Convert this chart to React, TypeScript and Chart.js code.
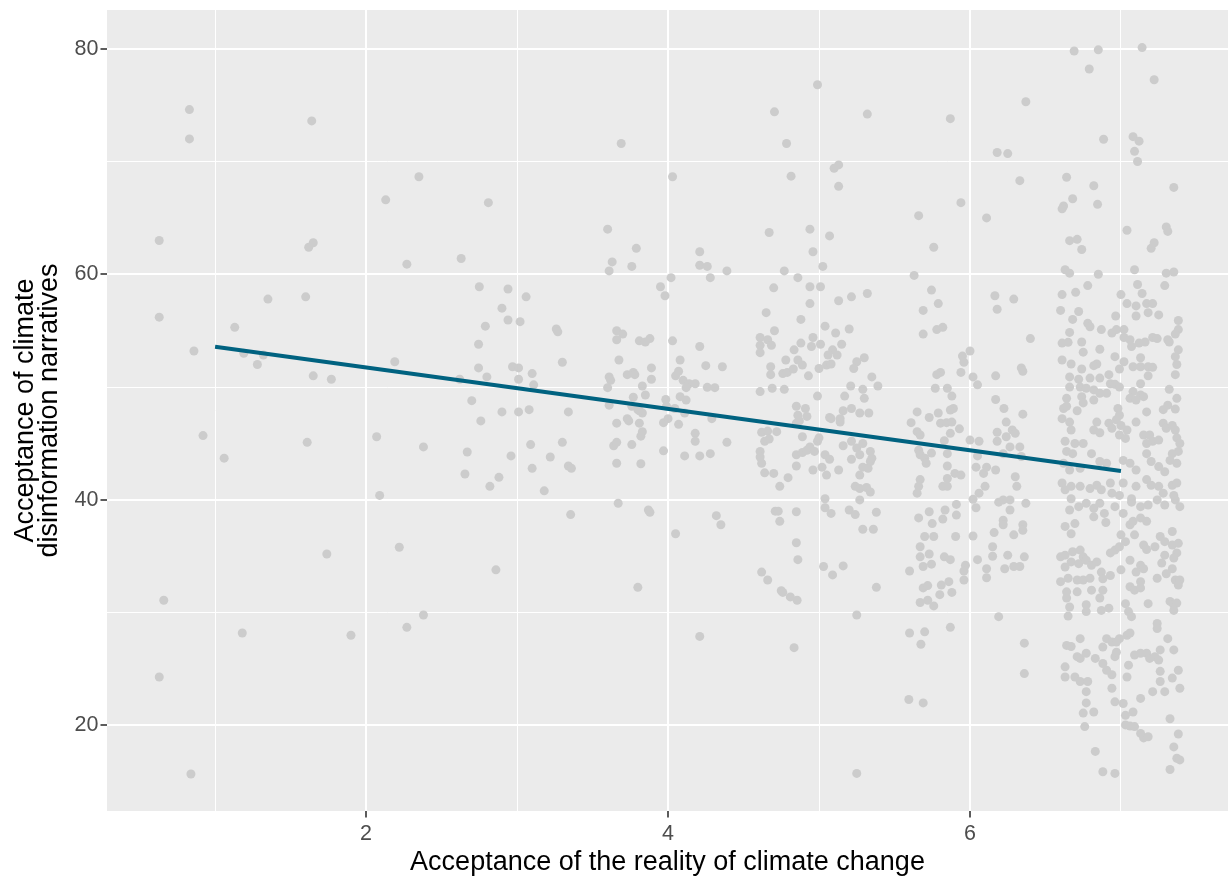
import React, { useEffect, useRef } from 'react';
import { Chart, registerables } from 'chart.js';

Chart.register(...registerables);

// Respondents: [acceptance of reality of climate change (jittered), acceptance of disinformation narratives]
const respondentsLow: [number, number][] = [
  [0.83,74.6],[0.83,72.0],[1.64,73.6],[2.13,66.6],[0.63,63.0],[1.65,62.8],[1.62,62.4],[2.27,60.9],[0.63,56.2],[1.35,57.8],
  [1.60,58.0],[1.13,55.3],[0.86,53.2],[1.19,53.0],[1.32,52.85],[1.28,52.0],[1.65,51.0],[1.77,50.7],[2.19,52.25],
  [0.92,45.7],[1.06,43.7],[1.61,45.1],[2.07,45.6],[2.09,40.4],[1.74,35.2],[2.22,35.8],[0.66,31.1],[1.18,28.2],[1.90,28.0],
  [2.27,28.7],[0.63,24.3],[0.84,15.7],
];

const respondentsMid: [number, number][] = [
  [3.69,71.6],[2.35,68.65],[4.03,68.65],[2.81,66.35],[3.60,64.0],[3.79,62.3],[3.63,61.1],[3.61,60.3],[3.76,60.7],[2.63,61.4],
  [4.21,62.0],[4.21,60.8],[4.02,59.7],[3.95,58.9],[3.98,58.1],[2.75,58.9],[2.94,58.7],[3.06,58.0],[2.90,57.0],[2.79,55.4],
  [2.94,55.95],[3.02,55.8],[3.26,55.15],[3.27,54.9],[2.745,53.8],[3.66,55.0],[3.70,54.7],[3.66,54.2],[3.81,54.1],[3.85,54.0],
  [3.88,54.3],[4.03,54.1],[4.21,53.6],[3.30,52.2],[3.675,52.4],[4.08,52.4],[2.745,51.7],[2.80,50.9],[2.97,51.8],[3.01,51.7],
  [3.01,50.7],[3.10,51.2],[3.11,50.2],[3.61,50.9],[3.62,50.6],[3.60,49.95],[3.73,51.1],[3.77,51.3],[3.78,51.1],[3.89,51.7],
  [3.89,50.7],[3.83,50.1],[3.85,49.3],[3.77,49.1],[4.07,51.4],[4.05,51.0],[4.10,50.6],[4.14,50.3],[4.18,50.3],[4.12,49.95],
  [4.08,49.15],[4.12,48.85],[3.985,48.9],[2.62,50.7],[2.70,48.8],[2.90,47.8],[3.01,47.8],[3.08,48.0],[3.34,47.8],[3.61,48.4],
  [2.76,47.0],[2.38,44.7],[2.67,44.25],[2.96,43.9],[3.09,44.9],[3.30,45.1],[3.22,43.8],[2.655,42.3],[2.88,42.0],[2.82,41.2],
  [3.10,42.8],[3.34,43.0],[3.36,42.8],[3.18,40.8],[3.66,46.8],[3.73,47.2],[3.74,47.0],[3.76,48.3],[3.80,48.0],[3.83,47.7],
  [3.81,47.9],[3.81,46.8],[3.83,46.05],[3.82,45.65],[3.64,44.8],[3.66,45.1],[3.76,44.9],[3.66,43.25],[3.82,43.2],[3.97,46.85],
  [4.00,47.2],[3.97,44.35],[4.07,46.7],[4.11,43.9],[4.18,45.9],[4.18,45.2],[4.21,43.9],[3.99,48.3],[4.045,48.1],[4.11,47.7],
  [3.67,39.7],[3.355,38.7],[3.87,39.1],[3.88,38.9],[4.05,37.0],[2.86,33.8],[3.80,32.25],[2.38,29.8],[4.21,27.9],
];

const respondentsHigh: [number, number][] = [
  [4.99,76.8],[4.705,74.4],[5.32,74.2],[5.87,73.8],[4.785,71.6],[6.18,70.8],[5.10,69.4],[5.13,69.7],[4.815,68.7],[5.13,67.8],
  [5.94,66.35],[5.66,65.2],[6.11,65.0],[4.67,63.7],[4.94,64.0],[5.07,63.4],[4.96,62.0],[5.76,62.4],[4.26,60.7],[4.28,59.7],
  [4.39,60.3],[4.77,60.3],[5.025,60.7],[4.86,59.7],[4.70,58.8],[4.94,58.9],[5.01,58.9],[4.94,57.4],[5.63,59.9],[5.745,58.6],
  [5.79,57.4],[5.69,56.8],[5.69,54.7],[5.78,55.1],[5.82,55.3],[6.165,58.1],[6.18,56.9],[5.13,57.65],[5.215,58.0],[5.32,58.3],
  [4.65,56.6],[4.88,56.0],[4.705,55.0],[5.04,55.4],[5.11,54.8],[5.20,55.15],[4.61,54.4],[4.66,54.2],[4.61,53.7],[4.685,53.7],
  [4.61,53.05],[4.88,53.9],[4.835,53.3],[4.96,54.4],[4.95,53.6],[5.01,53.8],[5.15,53.8],[5.09,53.3],[5.06,52.85],[5.12,52.85],
  [4.78,52.4],[4.86,52.4],[4.89,51.95],[5.25,52.25],[5.23,51.65],[5.30,52.6],[5.00,51.65],[5.05,51.95],[5.08,52.05],[4.68,51.8],
  [4.68,51.1],[4.76,51.2],[4.79,51.3],[4.83,51.6],[4.93,51.0],[4.25,51.9],[4.36,51.8],[4.26,49.98],[4.31,49.95],[4.61,49.6],
  [4.69,49.9],[4.77,49.8],[4.99,49.2],[5.21,50.1],[5.29,49.8],[5.30,49.0],[5.35,50.9],[5.39,50.1],[5.17,49.2],[4.85,48.3],
  [4.91,48.1],[5.16,47.9],[5.215,48.1],[5.27,47.7],[5.33,47.7],[5.07,47.3],[5.14,47.2],[4.86,47.5],[4.92,47.4],[5.65,47.8],
  [5.73,47.3],[5.79,47.7],[5.89,48.1],[5.87,47.97],[5.77,49.9],[5.805,51.3],[5.78,51.1],[5.85,49.9],[5.88,49.2],[5.94,51.3],
  [5.95,52.75],[5.96,52.2],[6.00,53.2],[6.02,50.9],[6.05,50.2],[6.17,51.0],[6.17,48.9],
  [4.39,45.1],[4.29,47.2],[4.28,44.1],[4.62,46.0],[4.66,46.1],[4.72,46.05],[4.64,45.2],[4.67,45.4],[4.61,44.3],[4.61,43.8],
  [4.62,43.25],[4.64,42.4],[4.70,42.35],[4.795,41.97],[4.74,41.2],[4.85,46.8],[4.87,47.0],[4.89,45.6],[4.85,44.0],[4.85,43.0],
  [4.89,44.2],[4.92,44.4],[4.94,44.7],[4.97,44.3],[4.99,45.2],[5.00,45.5],[4.96,42.65],[5.02,42.9],[5.05,42.2],[5.04,44.0],
  [5.07,43.6],[5.08,47.2],[5.14,46.9],[5.16,44.8],[5.215,45.2],[5.13,42.65],[5.215,43.6],[5.25,44.6],[5.27,44.0],[5.29,45.0],
  [5.27,42.2],[5.29,42.9],[5.325,42.8],[5.34,43.4],[5.34,44.3],[5.35,43.7],[5.24,41.2],[5.27,41.0],[5.315,41.1],[5.34,40.7],
  [5.27,40.0],[5.04,40.1],[5.04,39.3],[5.08,38.8],[5.20,39.1],[5.24,38.7],[5.38,38.9],[5.29,37.4],[5.36,37.4],[4.71,39.0],
  [4.73,39.0],[4.74,38.1],[4.85,38.95],[4.32,38.6],[4.35,37.8],[4.85,36.2],[4.86,34.7],[4.62,33.6],[4.66,32.9],[4.75,31.95],
  [4.76,31.8],[4.81,31.4],[4.855,31.1],[5.03,34.1],[5.09,33.35],[5.16,34.15],[5.38,32.25],[5.25,29.8],[4.835,26.9],[5.25,15.75],
  [5.61,46.85],[5.65,46.05],[5.67,45.75],[5.805,46.8],[5.845,46.85],[5.88,46.9],[5.93,46.3],[5.87,45.9],[5.83,45.25],[5.66,44.4],
  [5.67,44.0],[5.70,43.7],[5.71,43.25],[5.745,44.15],[5.85,44.1],[5.85,43.0],[5.90,42.35],[5.94,42.2],[5.85,41.9],[5.82,41.2],
  [5.85,41.2],[6.00,45.3],[6.06,45.2],[6.05,43.9],[6.04,42.9],[6.09,42.35],[6.11,42.9],[6.17,42.65],[6.18,46.0],[6.18,45.2],
  [6.10,41.2],[6.06,40.6],[5.67,41.8],[5.66,41.2],[5.65,40.6],[6.02,40.05],[6.04,39.3],[6.19,39.8],[5.66,38.4],[5.73,38.95],
  [5.75,37.9],[5.835,39.1],[5.82,38.3],[5.91,39.6],[5.91,38.65],[5.70,36.75],[5.76,36.75],[5.905,36.75],[6.02,36.8],[6.16,37.1],
  [5.67,35.85],[5.67,34.95],[5.73,35.2],[5.745,34.3],[5.69,34.1],[5.83,34.95],[5.87,34.7],[5.60,33.7],[6.05,34.7],[6.15,35.85],
  [6.15,35.0],[5.97,34.2],[5.96,33.7],[5.96,32.9],[6.11,33.9],[6.11,33.1],[5.69,32.2],[5.72,32.4],[5.81,32.45],[5.86,32.75],
  [5.88,31.8],[5.80,31.6],[5.67,30.9],[5.72,31.1],[5.76,30.6],[6.19,29.65],[5.60,28.2],[5.70,28.3],[5.675,27.2],[5.87,28.7],
  [5.595,22.3],[5.69,22.0],
];

const respondentsTop: [number, number][] = [
  [6.69,79.8],[6.85,79.9],[7.14,80.1],[6.79,78.2],[7.22,77.25],[6.37,75.3],[6.25,70.7],[6.885,71.97],[7.08,72.2],[7.12,71.8],
  [7.09,70.9],[7.11,70.0],[6.33,68.3],[6.64,68.6],[6.82,67.85],[7.35,67.7],[6.68,66.7],[6.62,66.05],[6.61,65.8],[6.845,66.2],
  [7.04,63.9],[7.30,64.2],[7.31,63.8],[6.66,62.98],[6.71,63.1],[6.74,62.2],[7.22,62.8],[7.20,62.3],[6.63,60.4],[6.66,60.1],
  [6.85,60.0],[7.09,60.4],[7.30,60.1],[7.35,60.2],[6.29,57.8],[6.61,58.2],[6.70,58.4],[6.78,59.0],[6.60,56.8],[6.72,56.7],
  [6.68,56.0],[6.78,55.65],[6.795,55.35],[6.87,55.1],[6.66,54.85],[6.61,53.9],[6.65,53.97],[6.74,54.0],[6.75,53.1],[6.86,53.35],
  [6.61,52.4],[6.67,52.05],[6.74,51.6],[6.84,52.05],[6.82,51.9],[6.66,50.9],[6.72,50.7],[6.795,50.8],[6.86,50.8],[6.92,51.1],
  [6.93,50.3],[6.96,50.25],[6.99,50.0],[6.96,52.7],[6.99,51.6],[7.02,52.25],[7.00,58.2],[7.04,57.4],[7.10,57.2],[6.965,56.3],
  [7.10,56.3],[7.11,59.1],[7.14,58.3],[7.29,59.0],[7.17,57.4],[7.21,57.4],[7.18,56.6],[7.25,56.4],[6.94,54.8],[6.97,55.1],
  [7.02,55.1],[7.02,54.4],[7.06,54.2],[7.07,53.6],[7.12,53.9],[7.16,54.0],[7.21,54.4],[7.24,54.3],[7.31,54.2],[7.32,54.0],
  [7.38,55.9],[7.38,55.1],[7.36,54.7],[7.38,53.3],[7.36,52.7],[7.37,52.0],[7.36,51.1],[7.13,52.6],[7.08,51.8],[7.13,51.8],
  [7.18,51.8],[7.21,51.75],[7.13,50.3],[7.18,51.0],[7.32,49.8],[7.37,49.0],[7.08,49.6],[7.13,49.3],[7.06,49.0],[7.10,48.85],
  [7.15,49.15],[6.66,50.0],[6.73,50.0],[6.77,49.9],[6.82,49.75],[6.64,49.0],[6.74,49.15],[6.75,48.6],[6.82,48.85],[6.86,49.45],
  [6.905,49.45],[6.62,48.1],[6.64,48.3],[6.71,47.9],[6.98,48.1],[6.99,47.5],[7.17,47.8],[7.28,48.0],[7.31,48.4],[7.36,48.05],
  [6.225,48.1],[6.35,47.6],[6.40,54.3],[6.34,51.7],[6.35,51.4],
  [6.24,46.9],[6.28,46.2],[6.30,45.9],[6.24,45.6],[6.265,44.7],[6.33,44.7],[6.22,44.1],[6.34,43.85],[6.30,42.05],[6.31,41.2],
  [6.22,40.0],[6.265,40.0],[6.37,39.7],[6.265,39.1],[6.22,38.2],[6.22,37.8],[6.35,37.8],[6.35,37.3],[6.29,36.9],[6.36,34.95],
  [6.25,35.1],[6.23,33.9],[6.29,34.1],[6.33,34.1],[6.36,27.3],[6.36,24.6],
];

const respondentsDense: [number, number][] = [
  [6.61,47.2],[6.66,46.9],[6.67,46.2],[6.84,46.9],[6.82,46.2],[6.86,45.95],[6.92,46.8],[6.94,46.35],[6.97,47.1],[7.00,46.6],
  [7.04,46.2],[6.99,45.75],[7.03,45.45],[7.10,46.9],[7.15,45.75],[7.19,45.75],[7.21,45.2],[7.17,45.0],[7.25,45.3],[7.28,46.8],
  [7.30,46.35],[7.34,46.6],[7.36,46.2],[7.37,45.5],[7.39,45.0],[7.38,44.3],[6.63,45.2],[6.695,45.0],[6.64,44.3],[6.68,44.1],
  [6.75,45.0],[6.805,44.1],[6.86,43.4],[6.905,43.25],[6.62,43.25],[6.66,42.65],[6.73,42.8],[7.015,43.5],[7.06,43.25],[7.10,42.65],
  [7.17,44.1],[7.20,43.4],[7.25,42.95],[7.29,42.5],[7.325,43.5],[7.37,43.25],[7.34,44.1],[6.61,41.5],[6.63,40.9],[6.67,41.2],
  [6.73,41.2],[6.795,41.0],[6.84,41.3],[6.87,40.9],[6.93,41.5],[6.94,40.6],[6.99,40.4],[7.015,41.5],[7.07,40.1],[7.10,41.2],
  [7.17,41.8],[7.20,41.3],[7.25,41.2],[7.28,40.6],[7.34,41.3],[7.37,41.5],[7.35,40.4],[6.67,40.1],[6.72,39.4],[6.66,39.1],
  [6.77,39.7],[6.82,39.25],[6.86,39.7],[6.89,38.8],[6.96,39.4],[7.015,38.8],[7.07,39.8],[7.13,39.4],[7.18,39.55],[7.24,40.0],
  [7.29,39.55],[7.36,40.0],[7.39,39.4],
  [6.63,37.65],[6.67,37.0],[6.695,37.9],[6.82,38.5],[6.90,38.0],[7.00,36.9],[7.03,36.3],[7.06,37.8],[7.08,38.1],[7.13,38.4],
  [7.17,38.1],[7.09,36.9],[7.15,36.0],[7.17,35.6],[7.225,35.85],[7.26,36.75],[7.29,36.3],[7.34,37.2],[7.34,36.0],[7.38,36.15],
  [7.37,35.3],[7.35,34.85],[7.29,35.1],[6.60,34.95],[6.63,35.1],[6.68,35.4],[6.73,35.55],[6.75,34.95],[6.67,34.5],[6.72,34.35],
  [6.77,34.65],[6.805,34.2],[6.84,34.5],[6.63,34.05],[6.87,33.6],[6.93,33.3],[6.88,33.0],[6.93,35.3],[6.96,35.55],[6.99,35.85],
  [7.00,33.8],[7.06,34.65],[7.13,34.2],[7.10,33.6],[7.15,33.9],[7.24,33.05],[7.27,34.4],[7.30,33.45],[7.34,33.9],[7.36,32.9],
  [7.39,32.9],[7.38,32.45],[6.60,32.75],[6.65,33.05],[6.71,32.9],[6.75,32.9],[6.795,33.05],[6.64,31.85],[6.64,31.3],[6.66,30.5],
  [6.71,31.85],[6.77,30.7],[6.805,32.0],[6.86,31.3],[6.88,32.0],[6.87,30.2],[6.92,30.4],[6.77,30.1],[6.65,29.7],[7.03,30.8],
  [7.05,30.1],[7.07,29.65],[7.18,30.8],[7.06,32.3],[7.09,32.0],[7.13,32.2],[7.13,32.75],[7.325,31.0],[7.35,30.7],[7.37,30.85],
  [7.35,30.2],[7.24,29.05],[7.24,28.6],[7.31,27.7],[6.64,27.1],[6.67,27.0],[6.73,27.7],[6.71,26.1],[6.73,25.95],[6.77,26.4],
  [6.83,25.95],[6.88,26.95],[6.905,27.7],[6.94,27.4],[6.97,27.4],[6.99,27.7],[7.04,28.0],[7.06,28.2],[6.63,25.2],[6.63,24.3],
  [6.695,24.3],[6.73,23.9],[6.78,23.9],[6.88,25.5],[6.905,24.9],[6.94,24.5],[6.96,26.1],[6.97,26.5],[7.05,25.35],[7.04,24.3],
  [7.09,26.25],[7.13,26.4],[7.17,26.4],[7.19,25.95],[7.225,26.1],[7.25,25.8],[7.26,26.7],[7.26,24.8],[7.35,26.7],[7.38,24.9],
  [7.34,24.2],[7.39,23.3],[7.26,23.9],[7.21,23.0],[7.29,23.0],[6.77,23.0],[6.77,22.0],[6.75,21.1],[6.82,21.2],[6.94,23.3],
  [6.96,22.1],[7.015,21.95],[7.13,22.4],[7.08,21.2],[7.03,20.9],[6.76,19.9],[7.03,20.05],[7.06,19.95],[7.09,19.9],[7.13,19.3],
  [7.15,18.9],[7.18,19.0],[7.325,20.6],[7.38,19.25],[7.35,18.1],[7.37,17.1],[7.39,16.95],[7.325,16.1],[6.83,17.7],[6.88,15.9],
  [6.96,15.75],
];

// Linear fit (geom_smooth, method = lm) end points
const fitX = [1, 7];
const fitY = [53.58, 42.56];

// Axes
const xRange = [0.284, 7.709];
const yRange = [12.42, 83.43];
const xTicks = [1, 2, 3, 4, 5, 6, 7];
const xTickLabels = ['', '2', '', '4', '', '6', ''];
const yTicks = [20, 30, 40, 50, 60, 70, 80];
const yTickLabels = ['20', '', '40', '', '60', '', '80'];
const xTitle = 'Acceptance of the reality of climate change';
const yTitle = ['Acceptance of climate', 'disinformation narratives'];

const panelBackground = {
  id: 'panelBackground',
  beforeDraw(chart: any) {
    const { ctx, chartArea } = chart;
    if (!chartArea) return;
    ctx.save();
    ctx.fillStyle = '#EBEBEB';
    ctx.fillRect(chartArea.left, chartArea.top, chartArea.right - chartArea.left, chartArea.bottom - chartArea.top);
    ctx.restore();
  },
};

const zeroPadding = (s: any) => {
  s.paddingTop = 0;
  s.paddingBottom = 0;
  s.paddingLeft = 0;
  s.paddingRight = 0;
};

export default function App() {
  const canvasRef = useRef<HTMLCanvasElement | null>(null);

  useEffect(() => {
    if (!canvasRef.current) return;
    Chart.defaults.font.family = '"Liberation Sans", Arial, sans-serif';
    const all = [
      ...respondentsLow,
      ...respondentsMid,
      ...respondentsHigh,
      ...respondentsTop,
      ...respondentsDense,
    ];
    const isMajorX = (v: number) => v % 2 === 0;
    const isMajorY = (v: number) => v % 20 === 0;

    const chart = new Chart(canvasRef.current, {
      type: 'scatter',
      data: {
        datasets: [
          {
            type: 'line',
            data: fitX.map((x, i) => ({ x, y: fitY[i] })),
            borderColor: '#006280',
            borderWidth: 4,
            pointRadius: 0,
            fill: false,
            order: 0,
          } as any,
          {
            type: 'scatter',
            data: all.map(([x, y]) => ({ x, y })),
            pointRadius: 4.5,
            pointHoverRadius: 4.5,
            pointBackgroundColor: '#CCCCCC',
            pointBorderWidth: 0,
            borderWidth: 0,
            order: 1,
          } as any,
        ],
      },
      options: {
        animation: false,
        responsive: false,
        events: [],
        layout: { autoPadding: false, padding: { top: 10, right: 0, left: 0, bottom: 0 } },
        plugins: { legend: { display: false }, tooltip: { enabled: false } },
        scales: {
          x: {
            type: 'linear',
            min: xRange[0],
            max: xRange[1],
            afterBuildTicks: (s: any) => {
              s.ticks = xTicks.map((v) => ({ value: v }));
            },
            afterFit: (s: any) => {
              s.height = 67;
              zeroPadding(s);
            },
            border: { display: false },
            grid: {
              color: '#FFFFFF',
              lineWidth: (c: any) => (c.tick && isMajorX(c.tick.value) ? 2 : 1),
              tickColor: (c: any) => (c.tick && isMajorX(c.tick.value) ? '#333333' : 'rgba(0,0,0,0)'),
              tickWidth: 1.6,
              tickLength: 6.5,
              drawTicks: true,
            },
            ticks: {
              autoSkip: false,
              maxRotation: 0,
              padding: 4,
              color: '#4D4D4D',
              font: { size: 21.5 },
              callback: (v: any) => xTickLabels[xTicks.indexOf(Number(v))] ?? '',
            },
            title: {
              display: true,
              text: xTitle,
              color: '#000000',
              font: { size: 27 },
              padding: { top: 0, bottom: -1 },
            },
          },
          y: {
            type: 'linear',
            min: yRange[0],
            max: yRange[1],
            afterBuildTicks: (s: any) => {
              s.ticks = yTicks.map((v) => ({ value: v }));
            },
            afterFit: (s: any) => {
              s.width = 107;
              zeroPadding(s);
            },
            border: { display: false },
            grid: {
              color: '#FFFFFF',
              lineWidth: (c: any) => (c.tick && isMajorY(c.tick.value) ? 2 : 1),
              tickColor: (c: any) => (c.tick && isMajorY(c.tick.value) ? '#333333' : 'rgba(0,0,0,0)'),
              tickWidth: 1.6,
              tickLength: 6.5,
              drawTicks: true,
            },
            ticks: {
              autoSkip: false,
              padding: 2,
              color: '#4D4D4D',
              font: { size: 21.5 },
              callback: (v: any) => yTickLabels[yTicks.indexOf(Number(v))] ?? '',
            },
            title: {
              display: true,
              text: yTitle,
              color: '#000000',
              font: { size: 27, lineHeight: 0.9 },
              padding: { top: 13, bottom: 0 },
            },
          },
        },
      },
      plugins: [panelBackground],
    } as any);

    return () => chart.destroy();
  }, []);

  return (
    <div style={{ position: 'fixed', left: 0, top: 0, width: 1228, height: 878, background: '#FFFFFF' }}>
      <canvas ref={canvasRef} width={1228} height={878} style={{ display: 'block' }} />
    </div>
  );
}
